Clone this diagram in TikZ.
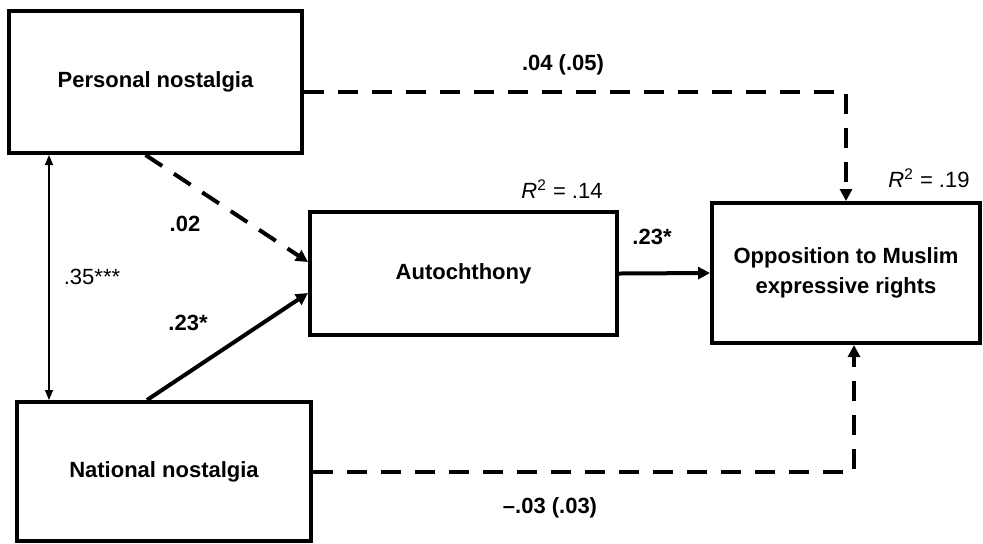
\documentclass[tikz,border=0pt]{standalone}
\usepackage{fontspec}
\setmainfont{Liberation Sans}
\usetikzlibrary{arrows.meta}

\begin{document}
\begin{tikzpicture}[>={Triangle[length=6pt,width=6pt]},x=0.5pt,y=-0.5pt,
  box/.style={draw,line width=2pt,align=center,inner sep=0pt,
    font=\fontsize{11}{15}\selectfont\bfseries},
  effect/.style={->,line width=2pt},
  noeffect/.style={effect,dash pattern=on 10pt off 7pt},
  coef/.style={inner sep=0pt,font=\fontsize{11}{13}\selectfont\bfseries},
  stat/.style={inner sep=0pt,font=\fontsize{11}{13}\selectfont}]
  \useasboundingbox (0,0) rectangle (983,543);
  % variables
  \node[box,minimum width=146.5pt,minimum height=71pt] (pers) at (155.5,82) {Personal nostalgia};
  \node[box,minimum width=147pt,minimum height=69.5pt] (nat) at (164,471.5) {National nostalgia};
  \node[box,minimum width=153.5pt,minimum height=61.5pt] (auto) at (463.5,273.5) {Autochthony};
  \node[box,minimum width=134pt,minimum height=70pt] (opp) at (846,273) {Opposition to Muslim\\expressive rights};
  % paths
  \draw[<->,line width=0.65pt,>={Triangle[length=5pt,width=4pt]}]
    ([xshift=21pt]pers.south west) -- ([xshift=17pt]nat.north west);
  \draw[noeffect] ([xshift=-5pt]pers.south) -- ([yshift=5.75pt]auto.west);
  \draw[effect] ([xshift=-8.5pt]nat.north) -- ([yshift=-9.75pt]auto.west);
  \draw[effect] (auto.east) -- (opp.west);
  \draw[noeffect] ([yshift=-5pt]pers.east) -| (opp.north);
  \draw[noeffect] (nat.east) -| ([xshift=4pt]opp.south);
  % coefficients
  \node[coef] (b1) at (563,65) {.04 (.05)};
  \node[coef] (b2) at (550,508) {--.03 (.03)};
  \node[coef] (b3) at (185,224) {.02};
  \node[coef] (b4) at (188,323) {.23*};
  \node[coef] (b5) at (652,237) {.23*};
  \node[stat] (r0) at (92,277) {.35***};
  \node[stat] (r1) at (562,189) {\textit{R}\textsuperscript{2} = .14};
  \node[stat] (r2) at (929,178) {\textit{R}\textsuperscript{2} = .19};
\end{tikzpicture}
\end{document}
